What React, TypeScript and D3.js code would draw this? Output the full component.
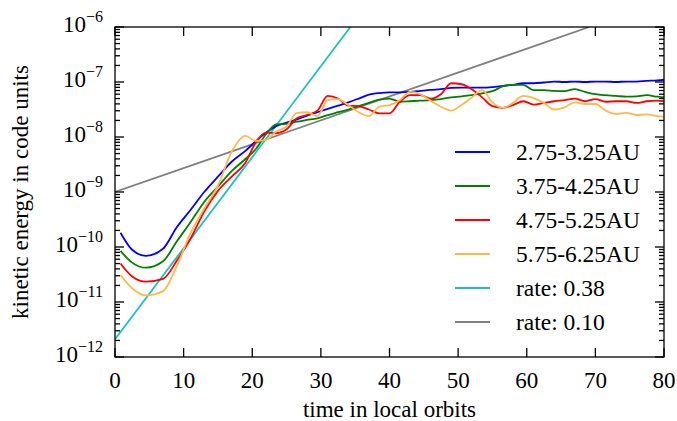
import React from "react";
import * as d3 from "d3";

// time in local orbits (shared sample grid)
const times = [
  0.8, 2.5, 4.5, 7, 9, 11, 13, 15, 17, 19, 20.5, 22, 23.5, 25, 26.5, 28, 29.5,
  31, 32.5, 34, 35.5, 37, 38.5, 40, 41.5, 43, 44.5, 46, 47.5, 49, 50.5, 52,
  53.5, 55, 56.5, 58, 59.5, 61, 62.5, 64, 65.5, 67, 68.5, 70, 71.5, 73, 74.5,
  76, 77.5, 79, 80,
];

// kinetic energy per radial bin
const band275 = [
  1.82e-10, 8.9e-11, 6.9e-11, 9.3e-11, 2.29e-10, 4.7e-10, 1.0e-9, 1.9e-9,
  3.55e-9, 5.6e-9, 8.3e-9, 1.2e-8, 1.58e-8, 1.82e-8, 2.09e-8, 2.45e-8, 2.82e-8,
  3.24e-8, 3.72e-8, 4.27e-8, 5.0e-8, 5.9e-8, 6.3e-8, 6.5e-8, 6.5e-8, 6.6e-8,
  6.9e-8, 7.2e-8, 7.4e-8, 7.8e-8, 7.9e-8, 7.9e-8, 7.9e-8, 8.1e-8, 8.5e-8,
  8.9e-8, 9.5e-8, 9.5e-8, 9.8e-8, 1.02e-7, 1.0e-7, 1.02e-7, 1.0e-7, 1.02e-7,
  1.02e-7, 1.0e-7, 1.02e-7, 1.02e-7, 1.05e-7, 1.07e-7, 1.1e-7,
];
const band375 = [
  8.5e-11, 5.2e-11, 4.2e-11, 5.5e-11, 1.26e-10, 2.82e-10, 6.6e-10, 1.26e-9,
  2.4e-9, 3.98e-9, 6.0e-9, 1.12e-8, 1.7e-8, 1.74e-8, 1.9e-8, 2.04e-8, 2.19e-8,
  2.51e-8, 2.82e-8, 3.16e-8, 3.63e-8, 4.17e-8, 4.79e-8, 5.0e-8, 4.37e-8,
  4.47e-8, 4.57e-8, 4.68e-8, 4.9e-8, 5.25e-8, 5.5e-8, 5.75e-8, 6.2e-8, 6.8e-8,
  8.3e-8, 8.9e-8, 8.9e-8, 7.1e-8, 7.1e-8, 6.9e-8, 6.8e-8, 7.4e-8, 6.6e-8,
  6.0e-8, 5.75e-8, 5.6e-8, 5.4e-8, 5.5e-8, 5.75e-8, 5.4e-8, 5.25e-8,
];
const band475 = [
  5.0e-11, 2.9e-11, 2.34e-11, 2.63e-11, 5.6e-11, 1.41e-10, 4.4e-10, 1.05e-9,
  1.9e-9, 3.4e-9, 7.9e-9, 1.2e-8, 1.17e-8, 1.38e-8, 2.19e-8, 2.51e-8, 3.02e-8,
  5.6e-8, 5.0e-8, 3.72e-8, 3.63e-8, 3.16e-8, 2.69e-8, 2.69e-8, 4.37e-8,
  5.75e-8, 5.75e-8, 5.0e-8, 6.0e-8, 9.5e-8, 9.1e-8, 7.4e-8, 5.25e-8, 3.63e-8,
  3.39e-8, 3.8e-8, 4.47e-8, 3.89e-8, 4.17e-8, 4.47e-8, 4.68e-8, 5.0e-8,
  4.47e-8, 4.9e-8, 4.37e-8, 4.47e-8, 4.47e-8, 4.17e-8, 4.47e-8, 4.57e-8,
  4.47e-8,
];
const band575 = [
  3.1e-11, 1.78e-11, 1.32e-11, 1.58e-11, 4.47e-11, 1.78e-10, 5.0e-10, 1.3e-9,
  5.4e-9, 1.05e-8, 8.5e-9, 8.9e-9, 1.26e-8, 1.55e-8, 2.75e-8, 2.82e-8, 2.4e-8,
  4.68e-8, 4.9e-8, 3.8e-8, 2.82e-8, 2.4e-8, 3.55e-8, 3.8e-8, 4.68e-8, 6.6e-8,
  6.0e-8, 4.57e-8, 3.55e-8, 3.02e-8, 3.8e-8, 5.25e-8, 7.1e-8, 4.27e-8,
  3.39e-8, 4.17e-8, 5.6e-8, 5.1e-8, 4.17e-8, 3.16e-8, 3.47e-8, 4.27e-8,
  3.98e-8, 3.98e-8, 3.02e-8, 2.63e-8, 2.75e-8, 2.51e-8, 2.57e-8, 2.4e-8,
  2.34e-8,
];

const bandLabels = ["2.75-3.25AU", "3.75-4.25AU", "4.75-5.25AU", "5.75-6.25AU"];
const bandValues = [band275, band375, band475, band575];

// exponential fits, given by their end points
const fitLabels = ["rate: 0.38", "rate: 0.10"];
const fitTimes = [[0, 34.3], [0, 69.1]];
const fitValues = [[2.1e-12, 1e-6], [1e-9, 1e-6]];

const xTicks = [0, 10, 20, 30, 40, 50, 60, 70, 80];
const yDecades = [-12, -11, -10, -9, -8, -7, -6];

const bandColors = ["#0000ff", "#008000", "#ff0000", "#ffb84d"];
const fitColors = ["#1fbfbf", "#808080"];

const W = 677;
const H = 421;
const margin = { left: 115, right: 13, top: 27, bottom: 64 };
const font = "Liberation Serif";

export default function App() {
  const x = d3.scaleLinear().domain([0, 80]).range([margin.left, W - margin.right]);
  const y = d3.scaleLog().domain([1e-12, 1e-6]).range([H - margin.bottom, margin.top]);
  const [x0, x1] = x.range();
  const [y0, y1] = y.range();

  const line = d3
    .line<[number, number]>()
    .x((d) => x(d[0]))
    .y((d) => y(d[1]))
    .curve(d3.curveMonotoneX);
  const straight = d3
    .line<[number, number]>()
    .x((d) => x(d[0]))
    .y((d) => y(d[1]));

  // minor ticks of the log axis: everything that is not a power of ten
  const minor = y.ticks().filter((v) => {
    const l = Math.log10(v);
    return Math.abs(l - Math.round(l)) > 1e-6;
  });

  const legendRows = [
    ...bandLabels.map((l, i) => ({ label: l, color: bandColors[i] })),
    ...fitLabels.map((l, i) => ({ label: l, color: fitColors[i] })),
  ];

  return (
    <svg
      width={W}
      height={H}
      style={{ position: "absolute", left: 0, top: 0, background: "#fff" }}
    >
      <defs>
        <clipPath id="plot">
          <rect x={x0} y={y1} width={x1 - x0} height={y0 - y1} />
        </clipPath>
      </defs>

      <g clipPath="url(#plot)" fill="none" strokeWidth={1.8}>
        {fitValues.map((vals, i) => (
          <path
            key={"f" + i}
            d={straight(fitTimes[i].map((t, j) => [t, vals[j]] as [number, number])) || ""}
            stroke={fitColors[i]}
          />
        ))}
        {bandValues.map((vals, i) => (
          <path
            key={"b" + i}
            d={line(times.map((t, j) => [t, vals[j]] as [number, number])) || ""}
            stroke={bandColors[i]}
          />
        ))}
      </g>

      {/* frame and inward ticks */}
      <g stroke="#000" strokeWidth={1.3} fill="none">
        <rect x={x0} y={y1} width={x1 - x0} height={y0 - y1} />
        {xTicks.map((t) => (
          <g key={"xt" + t}>
            <line x1={x(t)} x2={x(t)} y1={y0} y2={y0 - 9} />
            <line x1={x(t)} x2={x(t)} y1={y1} y2={y1 + 9} />
          </g>
        ))}
        {yDecades.map((d) => (
          <g key={"yt" + d}>
            <line x1={x0} x2={x0 + 9} y1={y(10 ** d)} y2={y(10 ** d)} />
            <line x1={x1} x2={x1 - 9} y1={y(10 ** d)} y2={y(10 ** d)} />
          </g>
        ))}
        {minor.map((v, i) => (
          <g key={"ym" + i}>
            <line x1={x0} x2={x0 + 5} y1={y(v)} y2={y(v)} />
            <line x1={x1} x2={x1 - 5} y1={y(v)} y2={y(v)} />
          </g>
        ))}
      </g>

      {/* tick labels */}
      {xTicks.map((t) => (
        <text
          key={"xl" + t}
          x={x(t)}
          y={y0 + 31}
          textAnchor="middle"
          fontFamily={font}
          fontSize={23}
        >
          {t}
        </text>
      ))}
      {yDecades.map((d) => (
        <text
          key={"yl" + d}
          x={x0 - 12}
          y={y(10 ** d) + 5}
          textAnchor="end"
          fontFamily={font}
          fontSize={23}
        >
          10
          <tspan fontSize={16} dy={-10}>
            {"\u2212" + Math.abs(d)}
          </tspan>
        </text>
      ))}

      {/* axis titles */}
      <text
        x={(x0 + x1) / 2}
        y={417}
        textAnchor="middle"
        fontFamily={font}
        fontSize={23}
      >
        time in local orbits
      </text>
      <text
        transform={`translate(28,${(y0 + y1) / 2}) rotate(-90)`}
        textAnchor="middle"
        fontFamily={font}
        fontSize={23}
      >
        kinetic energy in code units
      </text>

      {/* legend */}
      {legendRows.map((r, i) => (
        <g key={"lg" + i} transform={`translate(0,${152 + i * 34})`}>
          <line x1={455} x2={490} y1={0} y2={0} stroke={r.color} strokeWidth={1.8} />
          <text x={516} y={8} fontFamily={font} fontSize={23.5}>
            {r.label}
          </text>
        </g>
      ))}
    </svg>
  );
}
